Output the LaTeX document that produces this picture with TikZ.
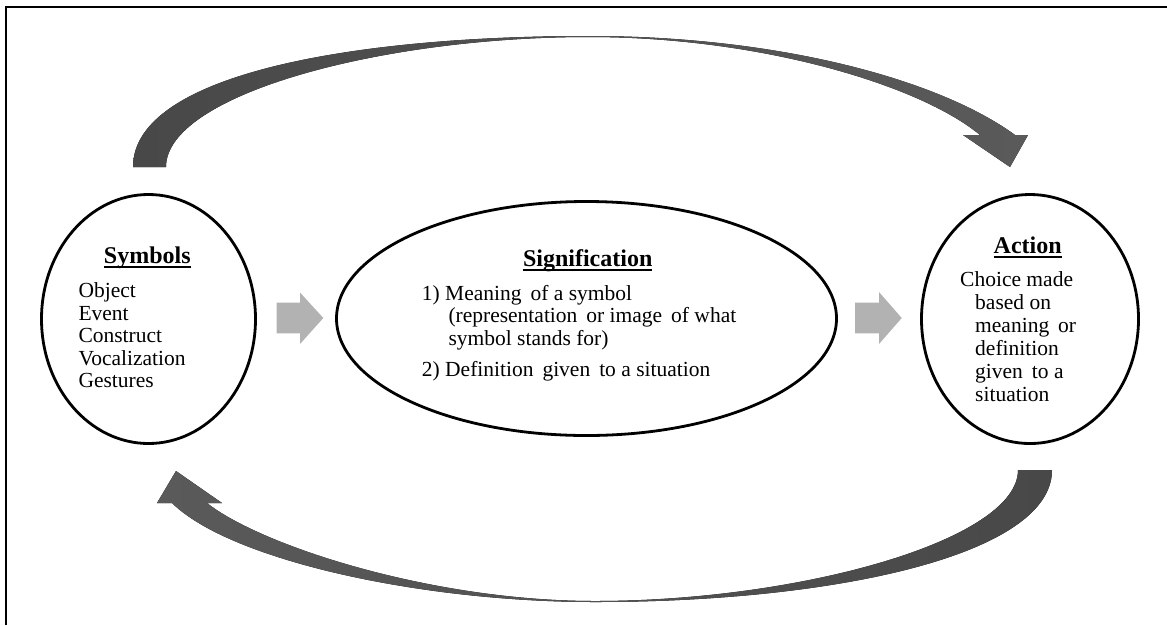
\documentclass[tikz,border=0pt]{standalone}
\usepackage{fontspec}
\setmainfont{Liberation Serif}
\usetikzlibrary{shapes.geometric}

% underlined heading with the rule just under the baseline
\newcommand\headul[1]{\sbox0{#1}\rlap{\rule[-4.6pt]{\wd0}{1.8pt}}\usebox0}

\definecolor{blockgray}{RGB}{178,178,178}
\definecolor{curveA}{RGB}{72,72,72}
\definecolor{curveB}{RGB}{90,90,90}

\tikzset{
  oval/.style={draw=black, line width=2.8pt, ellipse, inner sep=0pt},
  title/.style={font={\fontsize{24}{26}\selectfont\bfseries}, inner sep=0pt, anchor=base},
  body/.style={font={\fontsize{21.5}{22.5}\selectfont}, inner sep=0pt, anchor=base west, align=left},
  blockarrow/.style={fill=blockgray},
  frameline/.style={line width=2pt, black}
}

\begin{document}
\begin{tikzpicture}[x=1pt, y=-1pt]
\useasboundingbox (0,0) rectangle (1167,625);

% open frame: top and left edges only
\draw[frameline] (6,625) -- (6,7) -- (1167,7);

% the three stages
\node[oval, minimum width=214pt, minimum height=249pt] (sym) at (148.5,319) {};
\node[oval, minimum width=500pt, minimum height=234pt] (sig) at (586.5,318.5) {};
\node[oval, minimum width=217pt, minimum height=249pt] (act) at (1030,319) {};

% headings
\node[title] (symT) at (147.3,263) {\headul{Symbols}};
\node[title] (sigT) at (587.7,266) {\headul{Signification}};
\node[title] (actT) at (1027.7,253.3) {\headul{Action}};

% contents (anchored at the baseline of the last line)
\node[body] (symL) at (78.3,387.5) {Object\\Event\\Construct\\Vocalization\\Gestures};
\node[body, font={\fontsize{21.5}{22.2}\selectfont}] (sigL) at (421.7,376.7)
  {1) Meaning\, of a symbol\\
   \hspace*{26.6pt}(representation\, or image\, of what\\
   \hspace*{26.6pt}symbol stands for)\\[9.5pt]
   2) Definition\, given\, to a situation};
\node[body, font={\fontsize{21.5}{23}\selectfont}] (actL) at (960,401.7)
  {Choice made\\
   \hspace*{15pt}based on\\
   \hspace*{15pt}meaning\, or\\
   \hspace*{15pt}definition\\
   \hspace*{15pt}given\, to a\\
   \hspace*{15pt}situation};

% straight block arrows between the stages
\fill[blockarrow] (276.7,302.5) -- (300,302.5) -- (300,292.5) -- (323.3,318)
  -- (300,344) -- (300,333.3) -- (276.7,333.3) -- cycle;
\fill[blockarrow] (855,302.5) -- (879,302.5) -- (879,292) -- (901.7,318)
  -- (879,344) -- (879,333.3) -- (855,333.3) -- cycle;

% upper curved arrow: Symbols -> Action
\fill[left color=curveA, right color=curveB]
  (133,167) .. controls (133,75) and (350,36) .. (589,36)
  .. controls (780,36) and (940,80) .. (1015,135)
  -- (1028,135) -- (1010,167) -- (963,135) -- (980,135)
  .. controls (920,85) and (760,37) .. (589,37)
  .. controls (380,37) and (166,95) .. (166,167) -- cycle;

% lower curved arrow: Action -> Symbols
\fill[right color=curveA, left color=curveB]
  (1052,470) .. controls (1052,555) and (835,602) .. (595,602)
  .. controls (420,602) and (230,560) .. (172,503)
  -- (157,503) -- (176,471) -- (222,503) -- (207,503)
  .. controls (260,545) and (430,601) .. (595,601)
  .. controls (800,601) and (1018,540) .. (1018,470) -- cycle;
\end{tikzpicture}
\end{document}
